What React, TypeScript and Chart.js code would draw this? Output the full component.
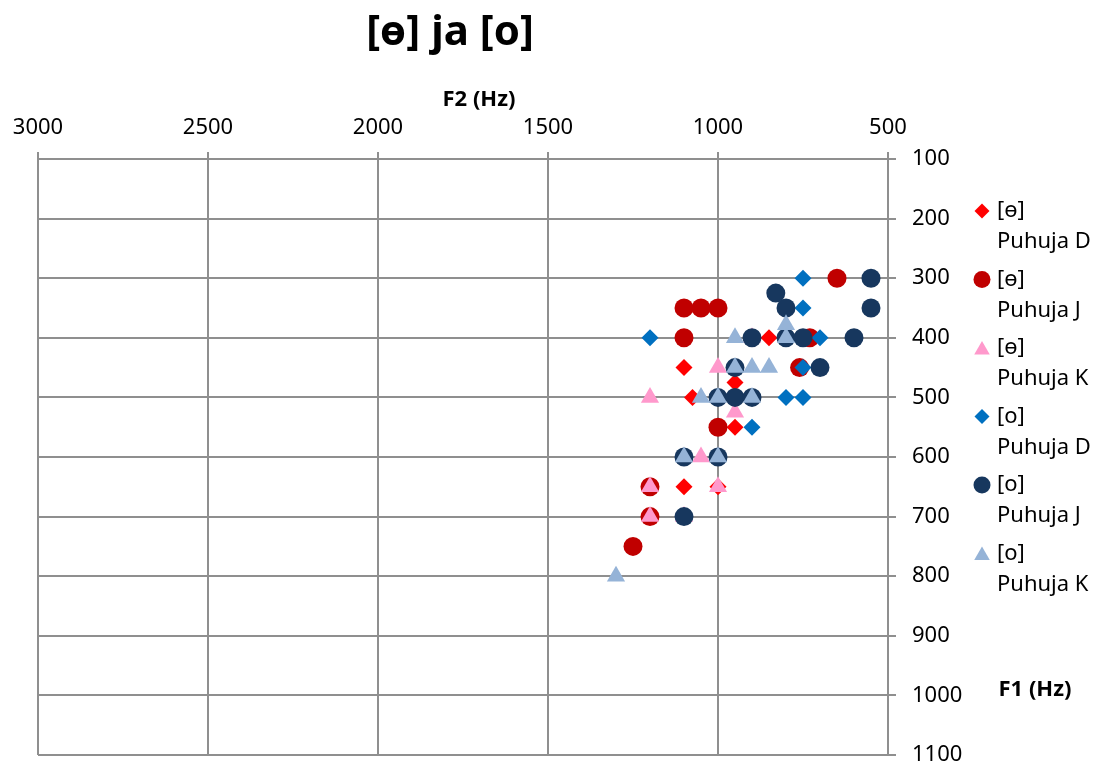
import React, { useEffect, useRef } from 'react';
import { Chart, registerables } from 'chart.js';

Chart.register(...registerables);

// ---- Data (F2 = x, F1 = y) ----
const titleText = '[ɵ] ja [o]';
const xAxisTitle = 'F2 (Hz)';
const yAxisTitle = 'F1 (Hz)';

const seriesLabels = [
  ['[ɵ]', 'Puhuja D'],
  ['[ɵ]', 'Puhuja J'],
  ['[ɵ]', 'Puhuja K'],
  ['[o]', 'Puhuja D'],
  ['[o]', 'Puhuja J'],
  ['[o]', 'Puhuja K'],
];

const eD_F2 = [850, 1100, 950, 1075, 950, 1100, 1000, 730];
const eD_F1 = [400, 450, 475, 500, 550, 650, 650, 400];

const eJ_F2 = [650, 1100, 1050, 1000, 1100, 730, 760, 1000, 1200, 1200, 1250];
const eJ_F1 = [300, 350, 350, 350, 400, 400, 450, 550, 650, 700, 750];

const eK_F2 = [900, 1000, 950, 1200, 1050, 1200, 1000, 1200, 1100];
const eK_F1 = [400, 450, 525, 500, 600, 650, 650, 700, 700];

const oD_F2 = [750, 750, 1200, 700, 750, 800, 750, 900];
const oD_F1 = [300, 350, 400, 400, 450, 500, 500, 550];

const oJ_F2 = [550, 830, 800, 550, 900, 800, 750, 600, 950, 700, 1000, 950, 900, 1100, 1000, 1100];
const oJ_F1 = [300, 325, 350, 350, 400, 400, 400, 400, 450, 450, 500, 500, 500, 600, 600, 700];

const oK_F2 = [950, 800, 800, 950, 900, 850, 1050, 1000, 900, 1100, 1000, 1300];
const oK_F1 = [400, 378, 400, 450, 450, 450, 500, 500, 500, 600, 600, 800];

const xTicks = [3000, 2500, 2000, 1500, 1000, 500];
const yTicks = [100, 200, 300, 400, 500, 600, 700, 800, 900, 1000, 1100];

const FONT = "'Noto Sans', 'DejaVu Sans', sans-serif";

const pts = (xs: number[], ys: number[]) => xs.map((x, i) => ({ x, y: ys[i] }));

const styles = [
  { color: '#FF0000', pointStyle: 'rectRot', radius: 8.5 },
  { color: '#C00000', pointStyle: 'circle', radius: 9.5 },
  { color: '#FF99CC', pointStyle: 'triangle', radius: 10.5 },
  { color: '#0070C0', pointStyle: 'rectRot', radius: 8.5 },
  { color: '#17375E', pointStyle: 'circle', radius: 9.5 },
  { color: '#95B3D7', pointStyle: 'triangle', radius: 10.5 },
];

const seriesData = [
  pts(eD_F2, eD_F1),
  pts(eJ_F2, eJ_F1),
  pts(eK_F2, eK_F1),
  pts(oD_F2, oD_F1),
  pts(oJ_F2, oJ_F1),
  pts(oK_F2, oK_F1),
];

function drawMarker(ctx: CanvasRenderingContext2D, style: string, x: number, y: number, r: number) {
  ctx.beginPath();
  if (style === 'circle') {
    ctx.arc(x, y, r, 0, Math.PI * 2);
  } else if (style === 'rectRot') {
    ctx.moveTo(x, y - r);
    ctx.lineTo(x + r, y);
    ctx.lineTo(x, y + r);
    ctx.lineTo(x - r, y);
  } else {
    const h = r * 1.5;
    const w = (r * Math.sqrt(3)) / 2;
    ctx.moveTo(x, y - r);
    ctx.lineTo(x + w, y + h - r);
    ctx.lineTo(x - w, y + h - r);
  }
  ctx.closePath();
  ctx.fill();
}

const textPlugin = {
  id: 'texts',
  afterDraw(chart: any) {
    const ctx = chart.ctx;
    ctx.save();
    ctx.fillStyle = '#000';
    ctx.textBaseline = 'middle';
    ctx.textAlign = 'center';
    ctx.font = `bold 42px ${FONT}`;
    ctx.fillText(titleText, 450, 33);
    ctx.font = `bold 22px ${FONT}`;
    ctx.fillText(xAxisTitle, 479, 100);
    ctx.fillText(yAxisTitle, 1035, 690);

    // legend
    const startY = 211;
    const step = 68.5;
    const lineGap = 31;
    chart.data.datasets.forEach((_ds: any, i: number) => {
      const y = startY + i * step;
      const st = styles[i];
      const r = st.pointStyle === 'triangle' ? 9 : st.pointStyle === 'circle' ? 8.5 : 7.5;
      ctx.fillStyle = st.color;
      const yy = st.pointStyle === 'triangle' ? y + 2 : y;
      drawMarker(ctx, st.pointStyle, 982, yy, r);
      ctx.fillStyle = '#000';
      ctx.textAlign = 'left';
      ctx.font = `22px ${FONT}`;
      seriesLabels[i].forEach((ln, k) => ctx.fillText(ln, 997, y + k * lineGap));
    });
    ctx.restore();
  },
};

export default function App() {
  const ref = useRef<HTMLCanvasElement>(null);

  useEffect(() => {
    document.body.style.margin = '0';
    const canvas = ref.current;
    if (!canvas) return;
    const gridColor = '#8F8F8F';
    const chart = new Chart(canvas, {
      type: 'scatter',
      data: {
        datasets: seriesData.map((d, i) => ({
          label: seriesLabels[i].join(' '),
          data: d,
          pointStyle: styles[i].pointStyle as any,
          pointRadius: styles[i].radius,
          pointHoverRadius: styles[i].radius,
          backgroundColor: styles[i].color,
          borderColor: styles[i].color,
          borderWidth: 0,
          order: 6 - i,
        })),
      },
      options: {
        animation: false,
        responsive: false,
        maintainAspectRatio: false,
        layout: { padding: { left: 38, right: 0, top: 0, bottom: 12 } },
        plugins: {
          legend: { display: false },
          title: { display: false },
          tooltip: { enabled: false },
        },
        scales: {
          x: {
            type: 'linear',
            position: 'top',
            reverse: true,
            min: 500,
            max: 3000,
            afterBuildTicks: (s: any) => {
              s.ticks = xTicks.map((v) => ({ value: v }));
            },
            afterFit: (s: any) => {
              s.height = 159;
              s.paddingLeft = 0;
              s.paddingRight = 0;
            },
            ticks: {
              color: '#000',
              font: { family: FONT, size: 22 },
              padding: 11,
              maxRotation: 0,
              autoSkip: false,
              callback: (v: any) => String(v),
            },
            grid: { color: gridColor, lineWidth: 2, tickLength: 7 },
            border: { display: false },
          },
          y: {
            type: 'linear',
            position: 'right',
            reverse: true,
            min: 100,
            max: 1100,
            afterBuildTicks: (s: any) => {
              s.ticks = yTicks.map((v) => ({ value: v }));
            },
            afterFit: (s: any) => {
              s.width = 215;
              s.paddingTop = 0;
              s.paddingBottom = 0;
            },
            ticks: {
              color: '#000',
              font: { family: FONT, size: 22 },
              padding: 16,
              autoSkip: false,
              callback: (v: any) => String(v),
            },
            grid: { color: gridColor, lineWidth: 2, tickLength: 8 },
            border: { display: false },
          },
        },
      },
      plugins: [textPlugin],
    });
    return () => chart.destroy();
  }, []);

  return (
    <div style={{ width: 1103, height: 767, background: '#fff' }}>
      <canvas ref={ref} width={1103} height={767} style={{ display: 'block' }} />
    </div>
  );
}
